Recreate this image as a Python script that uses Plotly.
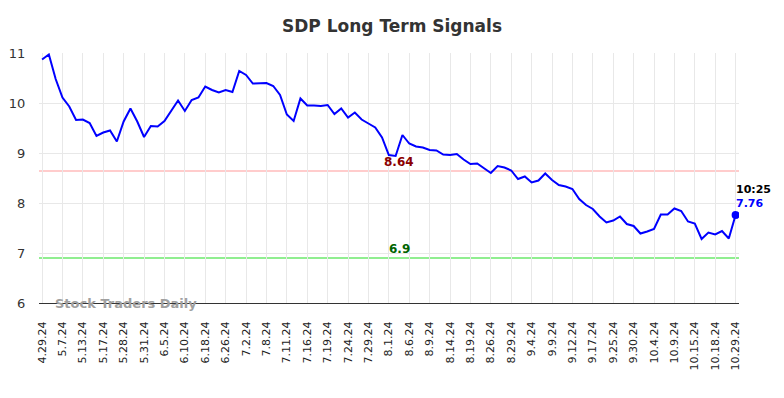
import plotly.graph_objects as go

values = [10.87, 10.97, 10.48, 10.11, 9.93, 9.66, 9.67, 9.60, 9.34, 9.41,
          9.45, 9.23, 9.63, 9.89, 9.63, 9.32, 9.54, 9.53, 9.64, 9.84,
          10.05, 9.84, 10.06, 10.11, 10.33, 10.26, 10.21, 10.26, 10.22, 10.64,
          10.56, 10.39, 10.39, 10.40, 10.34, 10.16, 9.77, 9.64, 10.09, 9.95,
          9.95, 9.94, 9.96, 9.78, 9.89, 9.71, 9.81, 9.67, 9.59, 9.51,
          9.31, 8.96, 8.94, 9.36, 9.19, 9.13, 9.11, 9.06, 9.05, 8.97,
          8.96, 8.98, 8.87, 8.78, 8.79, 8.69, 8.60, 8.74, 8.71, 8.65,
          8.48, 8.53, 8.41, 8.45, 8.59, 8.46, 8.36, 8.33, 8.28, 8.08,
          7.96, 7.88, 7.73, 7.61, 7.65, 7.73, 7.58, 7.54, 7.39, 7.43,
          7.48, 7.77, 7.77, 7.89, 7.84, 7.63, 7.59, 7.28, 7.41, 7.37,
          7.44, 7.29, 7.76]

tick_labels = ["4.29.24", "5.7.24", "5.13.24", "5.17.24", "5.28.24", "5.31.24",
               "6.5.24", "6.10.24", "6.18.24", "6.26.24", "7.2.24", "7.8.24",
               "7.11.24", "7.16.24", "7.19.24", "7.24.24", "7.29.24", "8.1.24",
               "8.6.24", "8.9.24", "8.14.24", "8.19.24", "8.26.24", "8.29.24",
               "9.4.24", "9.9.24", "9.12.24", "9.17.24", "9.25.24", "9.30.24",
               "10.4.24", "10.9.24", "10.15.24", "10.18.24", "10.29.24"]
tick_step = 3

resistance = 8.64
support = 6.9
last_time = "10:25"

x = list(range(len(values)))
tickvals = [i * tick_step for i in range(len(tick_labels))]

font = "DejaVu Sans"

fig = go.Figure()
fig.add_trace(go.Scatter(x=x, y=values, mode="lines",
                         line=dict(color="#0000ff", width=2), hoverinfo="skip"))
fig.add_trace(go.Scatter(x=[x[-1]], y=[values[-1]], mode="markers",
                         marker=dict(color="#0000ff", size=8), hoverinfo="skip"))

fig.add_hline(y=resistance, line=dict(color="#ffcccc", width=2), layer="below")
fig.add_hline(y=support, line=dict(color="#90ee90", width=2), layer="below")

fig.add_annotation(x=52.5, y=resistance, text=f"<b>{resistance:g}</b>", showarrow=False,
                   yanchor="bottom", yshift=0, font=dict(family=font, size=12, color="#8b0000"))
fig.add_annotation(x=52.5, y=support, text=f"<b>{support:g}</b>", showarrow=False,
                   yanchor="bottom", yshift=0, font=dict(family=font, size=12, color="#006400"))
fig.add_annotation(x=x[-1], y=values[-1], text=f"<b>{last_time}</b>", showarrow=False,
                   xanchor="left", yanchor="bottom", xshift=-2, yshift=17,
                   font=dict(family=font, size=11, color="#000000"))
fig.add_annotation(x=x[-1], y=values[-1], text=f"<b>{values[-1]:.2f}</b>", showarrow=False,
                   xanchor="left", yanchor="bottom", xshift=-2, yshift=3,
                   font=dict(family=font, size=11, color="#0000ff"))
fig.add_annotation(xref="paper", yref="paper", x=0.02, y=0.0, text="<b>Stock Traders Daily</b>",
                   showarrow=False, xanchor="left", yanchor="middle",
                   font=dict(family=font, size=13, color="#a0a0a0"))

fig.update_layout(
    width=784, height=398,
    margin=dict(l=39, r=45, t=53, b=95, autoexpand=False),
    paper_bgcolor="white", plot_bgcolor="white",
    showlegend=False,
    title=dict(text="<b>SDP Long Term Signals</b>", x=0.5, xanchor="center",
               y=0.935, yanchor="middle",
               font=dict(family=font, size=17, color="#333333")),
    font=dict(family=font),
)
fig.update_xaxes(range=[-0.45, len(values) - 0.5], tickvals=tickvals, ticktext=tick_labels,
                 tickangle=-90, showgrid=True, gridcolor="#e8e8e8", gridwidth=1,
                 showline=True, linecolor="#333333", linewidth=1, zeroline=False,
                 automargin=False,
                 ticks="outside", ticklen=13, tickcolor="rgba(0,0,0,0)",
                 tickfont=dict(family=font, size=11, color="#222222"))
fig.update_yaxes(range=[6, 11], tickvals=[6, 7, 8, 9, 10, 11], showgrid=True,
                 gridcolor="#e8e8e8", gridwidth=1, zeroline=False, showline=False,
                 automargin=False,
                 ticks="outside", ticklen=10, tickcolor="rgba(0,0,0,0)",
                 tickfont=dict(family=font, size=13, color="#333333"))

fig.write_html("out.html", config={"displayModeBar": False},
               post_script="document.body.style.margin='0';")
